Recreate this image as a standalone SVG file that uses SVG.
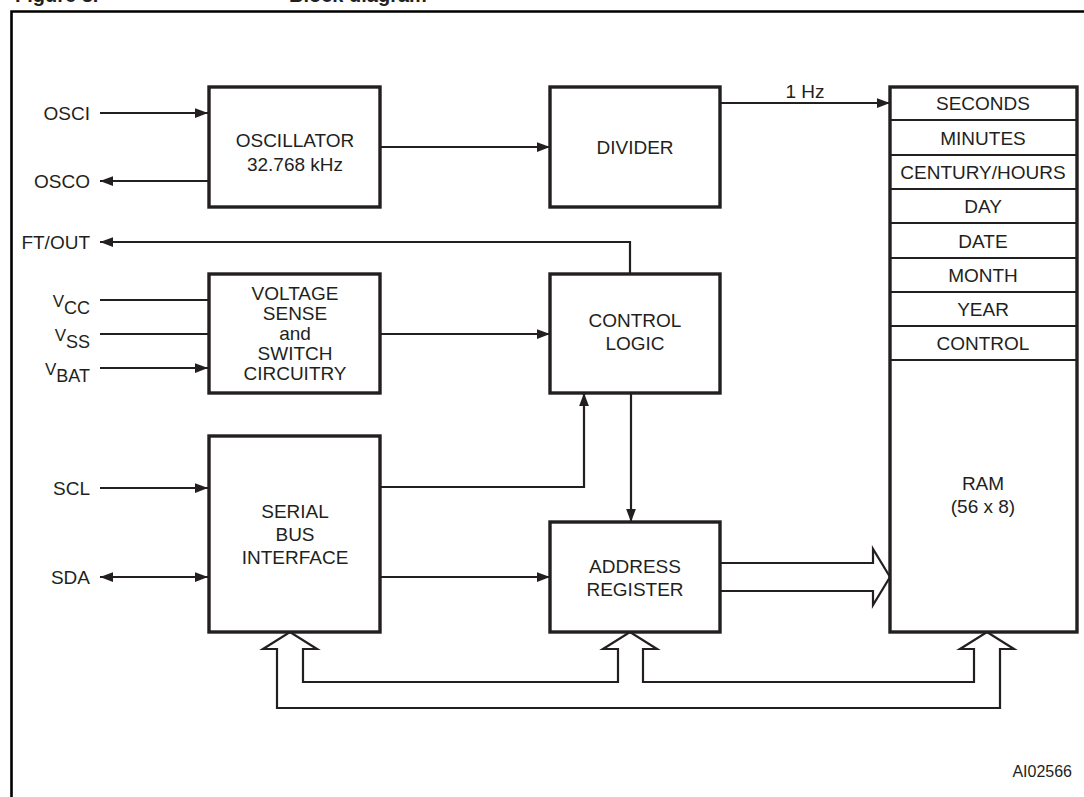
<svg xmlns="http://www.w3.org/2000/svg" width="1084" height="797" viewBox="0 0 1084 797">
<defs>
<marker id="ah" viewBox="0 0 12 9" refX="12" refY="4.5" markerWidth="13" markerHeight="10" markerUnits="userSpaceOnUse" orient="auto-start-reverse">
<path d="M0,0 L12,4.5 L0,9 z" fill="#231f20"/>
</marker>
</defs>
<style>
.box{fill:#fff;stroke:#231f20;stroke-width:3.4}
.ln{fill:none;stroke:#231f20;stroke-width:2.2}
.bus{fill:#fff;stroke:#231f20;stroke-width:2.2;stroke-linejoin:miter}
text{font-family:"Liberation Sans",Arial,sans-serif;font-size:19px;fill:#231f20}
.c{text-anchor:middle}
.e{text-anchor:end}
.row{fill:none;stroke:#231f20;stroke-width:2.2}
</style>
<rect width="1084" height="797" fill="#fff"/>
<text y="1.5" style="font-weight:bold;font-size:20px"><tspan x="15">Figure 3.</tspan><tspan x="289">Block diagram</tspan></text>
<path d="M11.5,800 V11.5 H1090" fill="none" stroke="#000" stroke-width="2.6"/>

<g id="connectors">
<path class="ln" d="M100,113 H208" marker-end="url(#ah)"/>
<path class="ln" d="M208,181 H100" marker-end="url(#ah)"/>
<path class="ln" d="M380,147 H550" marker-end="url(#ah)"/>
<path class="ln" d="M720,103 H890" marker-end="url(#ah)"/>
<path class="ln" d="M630,274 V242 H100" marker-end="url(#ah)"/>
<path class="ln" d="M100,300 H208"/>
<path class="ln" d="M100,334 H208"/>
<path class="ln" d="M100,368 H208" marker-end="url(#ah)"/>
<path class="ln" d="M380,334 H550" marker-end="url(#ah)"/>
<path class="ln" d="M100,488 H208" marker-end="url(#ah)"/>
<path class="ln" d="M100,577 H208" marker-start="url(#ah)" marker-end="url(#ah)"/>
<path class="ln" d="M380,487 H584 V393" marker-end="url(#ah)"/>
<path class="ln" d="M631,393 V522" marker-end="url(#ah)"/>
<path class="ln" d="M380,577 H550" marker-end="url(#ah)"/>
<path class="bus" d="M720,563 H873 V549 L890,577 L873,605 V591 H720"/>
<path class="bus" d="M263,649 L290,632 L317,649 H303 V682 H618 V649 H603 L630,632 L657,649 H643 V682 H974 V649 H960 L987,632 L1014,649 H1000 V708 H277 V649 Z"/>
<text x="805" y="98" class="c">1 Hz</text>
</g>

<g id="labels">
<text x="90" y="120" class="e">OSCI</text>
<text x="90" y="188" class="e">OSCO</text>
<text x="90" y="249" class="e">FT/OUT</text>
<text x="90" y="307" class="e"><tspan font-size="17">V</tspan><tspan font-size="18" dy="7">CC</tspan></text>
<text x="90" y="341" class="e"><tspan font-size="17">V</tspan><tspan font-size="18" dy="7">SS</tspan></text>
<text x="90" y="375" class="e"><tspan font-size="17">V</tspan><tspan font-size="18" dy="7">BAT</tspan></text>
<text x="90" y="495" class="e">SCL</text>
<text x="90" y="584" class="e">SDA</text>
</g>

<g id="oscillator">
<rect class="box" x="209" y="87" width="171" height="120"/>
<text x="295" y="147" class="c">OSCILLATOR</text>
<text x="295" y="171" class="c">32.768 kHz</text>
</g>

<g id="divider">
<rect class="box" x="550" y="87" width="170" height="120"/>
<text x="635" y="154" class="c">DIVIDER</text>
</g>

<g id="voltage">
<rect class="box" x="209" y="274" width="171" height="119"/>
<text x="295" y="300" class="c">VOLTAGE</text>
<text x="295" y="320" class="c">SENSE</text>
<text x="295" y="340" class="c">and</text>
<text x="295" y="360" class="c">SWITCH</text>
<text x="295" y="380" class="c">CIRCUITRY</text>
</g>

<g id="control">
<rect class="box" x="550" y="274" width="170" height="119"/>
<text x="635" y="327" class="c">CONTROL</text>
<text x="635" y="350" class="c">LOGIC</text>
</g>

<g id="serial">
<rect class="box" x="209" y="436" width="171" height="196"/>
<text x="295" y="518" class="c">SERIAL</text>
<text x="295" y="541" class="c">BUS</text>
<text x="295" y="564" class="c">INTERFACE</text>
</g>

<g id="address">
<rect class="box" x="550" y="522" width="170" height="110"/>
<text x="635" y="573" class="c">ADDRESS</text>
<text x="635" y="596" class="c">REGISTER</text>
</g>

<g id="ram">
<rect class="box" x="890" y="87" width="187" height="545"/>
<path class="row" d="M890,120 H1077 M890,155 H1077 M890,189 H1077 M890,223 H1077 M890,258 H1077 M890,292 H1077 M890,326 H1077 M890,360 H1077"/>
<text x="983" y="110" class="c">SECONDS</text>
<text x="983" y="145" class="c">MINUTES</text>
<text x="983" y="179" class="c">CENTURY/HOURS</text>
<text x="983" y="213" class="c">DAY</text>
<text x="983" y="248" class="c">DATE</text>
<text x="983" y="282" class="c">MONTH</text>
<text x="983" y="316" class="c">YEAR</text>
<text x="983" y="350" class="c">CONTROL</text>
<text x="983" y="490" class="c">RAM</text>
<text x="983" y="513" class="c">(56 x 8)</text>
</g>

<text x="1072" y="777" class="e" style="font-size:16px">AI02566</text>
</svg>
